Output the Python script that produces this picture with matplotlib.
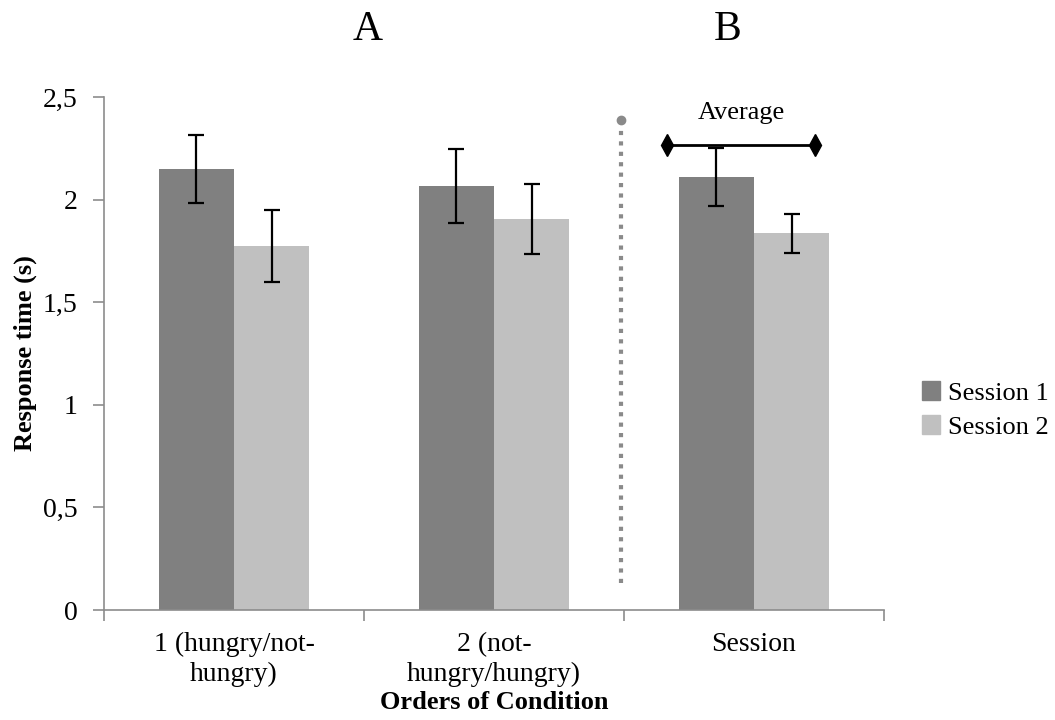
import matplotlib.pyplot as plt
from matplotlib.patches import Patch
import numpy as np

plt.rcParams['font.family'] = ['Liberation Serif', 'DejaVu Serif']

categories = ["1 (hungry/not-\nhungry)", "2 (not-\nhungry/hungry)", "Session"]
session1 = [2.15, 2.065, 2.11]
session2 = [1.775, 1.905, 1.835]
session1_err = [0.165, 0.18, 0.14]
session2_err = [0.175, 0.17, 0.095]
yticks = [0, 0.5, 1, 1.5, 2, 2.5]
ytick_labels = ["0", "0,5", "1", "1,5", "2", "2,5"]

dark = "#808080"
light = "#c0c0c0"
axis_col = "#8c8c8c"
fs = 20

fig = plt.figure(figsize=(10.55, 7.2), dpi=100)
ax = fig.add_axes([104 / 1055, 110 / 720, 780 / 1055, 513 / 720])

x = np.arange(len(categories))
w = 0.29
ax.bar(x - w / 2, session1, w, color=dark, label="Session 1")
ax.bar(x + w / 2, session2, w, color=light, label="Session 2")
ax.errorbar(x - w / 2, session1, yerr=session1_err, fmt="none", ecolor="black",
            elinewidth=1.6, capsize=6, capthick=1.6)
ax.errorbar(x + w / 2, session2, yerr=session2_err, fmt="none", ecolor="black",
            elinewidth=1.6, capsize=6, capthick=1.6)

ax.set_xlim(-0.5, 2.5)
ax.set_ylim(0, 2.5)
ax.set_yticks(yticks)
ax.set_yticklabels(ytick_labels, fontsize=fs)
ax.set_xticks(x)
ax.set_xticklabels(categories, fontsize=fs, linespacing=1.25)
ax.tick_params(axis="x", length=0, pad=16)
ax.set_xticks([-0.5, 0.5, 1.5, 2.5], minor=True)
ax.tick_params(axis="x", which="minor", length=8, color=axis_col, width=1.2)
ax.tick_params(axis="y", length=8, color=axis_col, width=1.2, pad=11)

for s in ["top", "right"]:
    ax.spines[s].set_visible(False)
for s in ["left", "bottom"]:
    ax.spines[s].set_color(axis_col)
    ax.spines[s].set_linewidth(1.2)

ax.set_ylabel("Response time (s)", fontsize=19, fontweight="bold", labelpad=4)
ax.set_xlabel("Orders of Condition", fontsize=19, fontweight="bold", labelpad=3)

# separator between panel A and B
ax.plot([1.49, 1.49], [0.13, 2.36], color="#8a8a8a", lw=3,
        linestyle=(0, (1, 1.5)), solid_capstyle="butt", dash_capstyle="butt")
ax.plot([1.49], [2.39], "o", color="#8a8a8a", markersize=6)

# average bracket
ax.plot([1.665, 2.235], [2.266, 2.266], color="black", lw=2)
ax.plot([1.665, 2.235], [2.266, 2.266], "d", color="black", markersize=11)
ax.text(1.95, 2.42, "Average", ha="center", va="center", fontsize=19)

fig.text(368 / 1055, 1 - 30 / 720, "A", ha="center", va="center", fontsize=30)
fig.text(728 / 1055, 1 - 30 / 720, "B", ha="center", va="center", fontsize=30)

handles = [Patch(color=dark, label="Session 1"), Patch(color=light, label="Session 2")]
fig.legend(handles=handles, loc="center left", bbox_to_anchor=(922 / 1055, 1 - 410 / 720),
           frameon=False, fontsize=19, handlelength=0.7, handleheight=0.7,
           handletextpad=0.3, labelspacing=0.4, borderpad=0, borderaxespad=0)

fig.savefig("out.png", dpi=100)
